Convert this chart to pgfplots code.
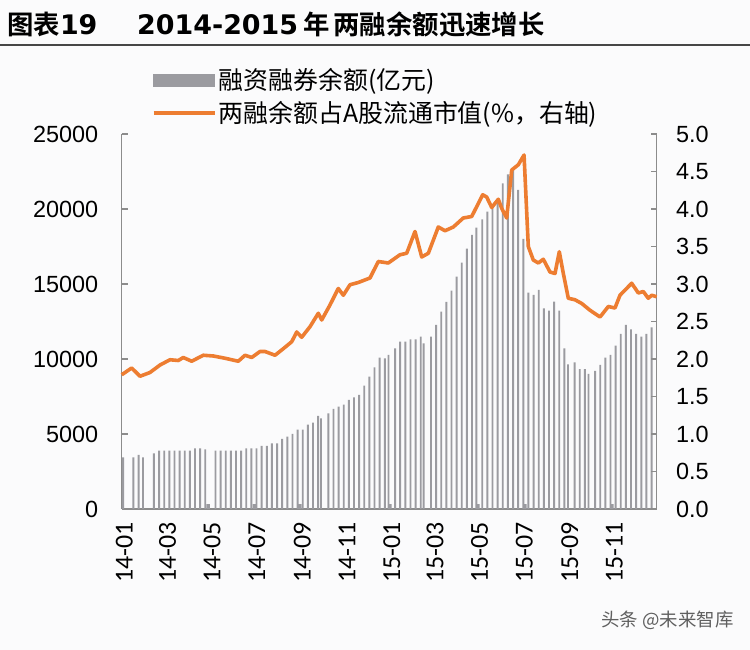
\documentclass[border=0pt]{standalone}
\usepackage{fontspec}
\setmainfont{Liberation Sans}
\newfontfamily\cjk{Noto Sans CJK SC}[BoldFont={Noto Sans CJK SC Bold}]
\newfontfamily\dejavu{DejaVu Sans}
\newfontfamily\carlito{Carlito}
\usepackage{pgfplots}
\usepackage{pgfplotstable}
\pgfplotsset{compat=1.18}
\definecolor{barc}{RGB}{155,155,160}
\definecolor{orng}{RGB}{237,125,49}
\definecolor{axgray}{RGB}{140,140,140}
\definecolor{bgc}{RGB}{251,251,252}
\definecolor{titleline}{RGB}{70,70,70}

% weekly margin balance (100 million yuan); x = days since 2014-01-01
\pgfplotstableread{
day val
2 3444
16 3444
23 3600
29 3444
44 3711
51 3889
58 3889
65 3889
72 3889
79 3889
86 3889
93 3889
100 4044
107 4044
114 3978
128 3889
135 3889
142 3889
149 3889
156 3889
163 3889
170 4044
177 4044
184 4044
191 4200
198 4200
205 4378
212 4378
219 4667
226 4822
233 5000
240 5289
247 5289
254 5622
261 5756
268 6200
272 6044
282 6378
289 6667
296 6822
303 6956
310 7267
317 7444
324 7600
331 8222
338 8822
345 9444
352 10089
359 10044
364 10267
373 10711
380 11156
387 11156
394 11311
401 11311
408 11489
412 11044
422 11489
429 12267
436 13156
443 13800
450 14556
457 15489
464 16422
471 17356
478 18267
484 18756
492 19311
499 19822
506 20267
513 20644
520 21711
527 22300
534 22600
541 21267
548 18000
555 14422
562 14267
569 14600
576 13378
583 13222
590 13822
597 13222
604 10711
609 9644
618 9778
625 9333
632 9333
637 9000
646 9200
653 9600
660 10089
667 10267
674 10889
681 11667
688 12267
695 11978
702 11667
709 11489
716 11667
723 12111
}\bars

\pgfplotstableread{
day val
118 330
181 330
243 330
366 330
486 330
550 330
669 330
}\stubs

% share of A-share float market value (%)
\pgfplotstableread{
day pct
0 1.79
13.6 1.88
25 1.77
38.6 1.82
52.3 1.92
65.9 1.99
77.2 1.98
84 2.02
95.5 1.97
111.3 2.05
125 2.04
141 2.01
159.1 1.97
168.2 2.05
177.4 2.02
188.7 2.10
195.5 2.10
209.2 2.05
218.3 2.12
232 2.23
238.8 2.36
245.6 2.29
256.9 2.43
268.3 2.61
272.9 2.52
284.2 2.72
295.5 2.94
302.4 2.85
311.5 2.99
322.8 3.02
338.8 3.08
350.1 3.30
363.8 3.28
379.7 3.39
388.9 3.41
400.2 3.70
409.4 3.36
418.4 3.41
432 3.76
441.2 3.71
452.5 3.76
466.1 3.88
477.6 3.90
492.6 4.19
498 4.16
504.9 4.02
513.9 4.13
518.5 4.01
525.3 3.88
532.2 4.52
541.2 4.59
549 4.72
554.8 3.50
561.6 3.32
568.5 3.28
575.3 3.33
584.4 3.16
591.2 3.14
597.1 3.43
602.6 3.14
609.4 2.81
618.5 2.79
627.7 2.74
639 2.65
652.7 2.56
664 2.70
673.1 2.68
679.9 2.85
695.9 3.01
704.9 2.88
711.7 2.90
718.5 2.81
723.2 2.85
730 2.83
}\ratio

\begin{document}
\begin{tikzpicture}
\path[use as bounding box, fill=bgc] (0,0) rectangle (750bp,650bp);
% title
\node[anchor=base west, inner sep=0pt] at (7bp,615bp)
  {{\cjk\bfseries\fontsize{26.5}{30}\selectfont 图表}{\dejavu\bfseries\fontsize{27}{30}\selectfont 19}};
\node[anchor=base west, inner sep=0pt] at (137bp,615bp)
  {{\dejavu\bfseries\fontsize{27}{30}\selectfont 2014-2015}\hspace{5bp}{\cjk\bfseries\fontsize{26.5}{30}\selectfont 年\hspace{4bp}两融余额迅速增长}};
\draw[titleline, line width=2.5bp] (0,605bp) -- (750bp,605bp);

\begin{axis}[
  scale only axis, width=535bp, height=375bp,
  at={(121.7bp,141bp)}, anchor=south west,
  xmin=0, xmax=730, ymin=0, ymax=25000,
  scaled y ticks=false,
  axis y line*=left, axis x line*=bottom,
  axis line style={draw=axgray, line width=1.4bp},
  ytick={0,5000,10000,15000,20000,25000},
  yticklabels={0,5000,10000,15000,20000,25000},
  yticklabel style={font=\fontsize{23.5}{26}\selectfont, xshift=-20bp},
  xtick={0,59,120,181,243,304,365,424,485,546,608,669},
  xticklabels={14-01,14-03,14-05,14-07,14-09,14-11,15-01,15-03,15-05,15-07,15-09,15-11},
  xticklabel style={font=\carlito\fontsize{26}{29}\selectfont, rotate=90, anchor=east, xshift=-10bp, yshift=-2.5bp},
  tick align=inside, major tick length=6bp,
  ytick style={draw=axgray, line width=1.1bp},
  xtick style={draw=none},
  clip=false,
]
\addplot[ybar, bar width=1.9bp, bar shift=0pt, fill=barc, draw=none] table[x=day, y=val] {\bars};
\addplot[ybar, bar width=3.5bp, bar shift=0pt, fill=barc, draw=none] table[x=day, y=val] {\stubs};
\end{axis}

\begin{axis}[
  scale only axis, width=535bp, height=375bp,
  at={(121.7bp,141bp)}, anchor=south west,
  xmin=0, xmax=730, ymin=0, ymax=5,
  axis y line*=right, axis x line=none,
  axis line style={draw=axgray, line width=1.4bp},
  ytick={0,0.5,1,1.5,2,2.5,3,3.5,4,4.5,5},
  yticklabels={0.0,0.5,1.0,1.5,2.0,2.5,3.0,3.5,4.0,4.5,5.0},
  yticklabel style={font=\fontsize{23.5}{26}\selectfont, xshift=16bp},
  tick align=inside, major tick length=6bp,
  ytick style={draw=axgray, line width=1.1bp},
  clip=false,
  legend style={draw=none, fill=none, at={(0.05,1.185)}, anchor=north west,
    font=\cjk\fontsize{25}{28}\selectfont, row sep=6bp,
    nodes={inner sep=2bp, anchor=west}},
  legend cell align=left,
]
\addlegendimage{legend image code/.code={\fill[barc] (0bp,-6bp) rectangle (61bp,6bp);}}
\addlegendentry{融资融券余额(亿元)}
\addplot[orng, line width=3.6bp, line join=round,
  legend image code/.code={\draw[orng, line width=4bp] (0bp,0bp) -- (61bp,0bp);}]
  table[x=day, y=pct] {\ratio};
\addlegendentry{两融余额占A股流通市值(\%，右轴)}
\end{axis}

\node[anchor=east, text={rgb,255:red,95;green,95;blue,95}] at (737bp,30bp)
  {\cjk\fontsize{18.5}{22}\selectfont 头条 @未来智库};
\end{tikzpicture}
\end{document}
